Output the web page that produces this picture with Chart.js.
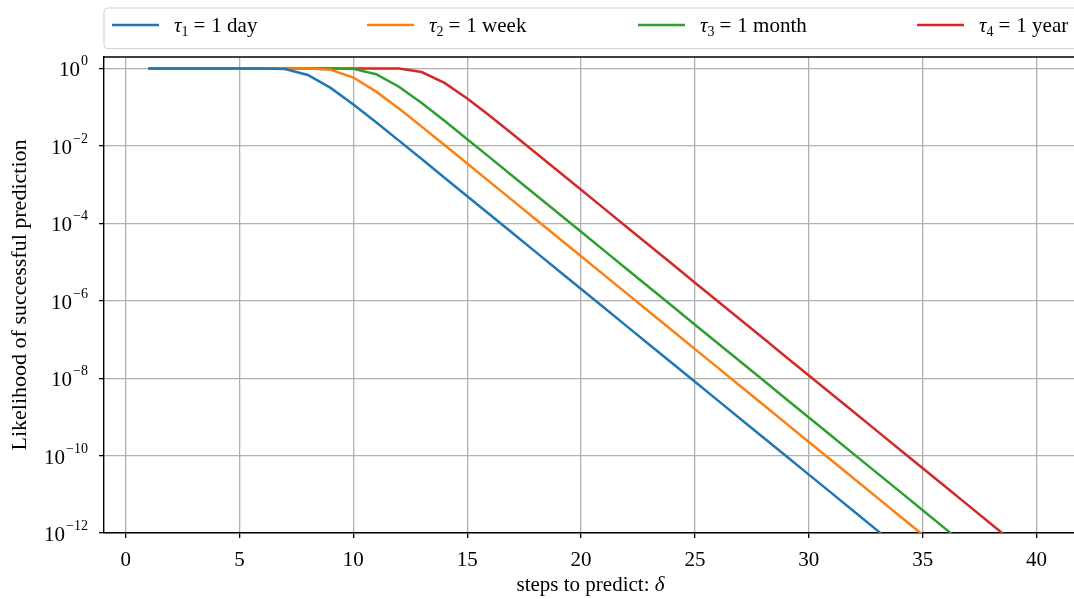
<!DOCTYPE html>
<html>
<head>
<meta charset="utf-8">
<script src="https://cdn.jsdelivr.net/npm/chart.js@4.4.0/dist/chart.umd.min.js"></script>
<style>
    html, body { margin: 0; padding: 0; background: #fff; overflow: hidden; }
    #contenedor { position: relative; width: 1084px; height: 599px; }
</style>
</head>
<body>
<div id="contenedor"><canvas id="grafico-prediccion"></canvas></div>
<script>
// Pasos a predecir (eje x)
const pasos = [1, 2, 3, 4, 5, 6, 7, 8, 9, 10, 11, 12, 13, 14, 15, 16, 17, 18, 19, 20,
               21, 22, 23, 24, 25, 26, 27, 28, 29, 30, 31, 32, 33, 34, 35, 36, 37, 38, 39, 40];

// Probabilidad de prediccion exitosa
const probDia = [1, 1, 1, 1, 1, 1, 0.968, 0.680, 0.315, 0.118, 0.0407, 0.0137,
    4.57e-3, 1.51e-3, 5.02e-4, 1.66e-4, 5.52e-5, 1.83e-5, 6.06e-6, 2.01e-6, 6.66e-7,
    2.21e-7, 7.32e-8, 2.43e-8, 8.04e-9, 2.67e-9, 8.84e-10, 2.93e-10, 9.72e-11,
    3.22e-11, 1.07e-11, 3.54e-12, 1.17e-12, 3.89e-13];
const probSemana = [1, 1, 1, 1, 1, 1, 1, 1, 0.929, 0.584, 0.252, 0.0919, 0.0315,
    0.0105, 3.51e-3, 1.16e-3, 3.86e-4, 1.28e-4, 4.24e-5, 1.41e-5, 4.66e-6, 1.55e-6,
    5.12e-7, 1.70e-7, 5.63e-8, 1.87e-8, 6.19e-9, 2.05e-9, 6.80e-10, 2.25e-10,
    7.47e-11, 2.48e-11, 8.21e-12, 2.72e-12, 9.03e-13];
const probMes = [1, 1, 1, 1, 1, 1, 1, 1, 1, 0.977, 0.712, 0.338, 0.128, 0.0444,
    0.0149, 4.98e-3, 1.65e-3, 5.48e-4, 1.82e-4, 6.03e-5, 2.00e-5, 6.62e-6, 2.20e-6,
    7.28e-7, 2.41e-7, 8.00e-8, 2.65e-8, 8.79e-9, 2.91e-9, 9.66e-10, 3.20e-10,
    1.06e-10, 3.52e-11, 1.17e-11, 3.87e-12, 1.28e-12, 4.25e-13];
const probAnio = [1, 1, 1, 1, 1, 1, 1, 1, 1, 1, 1, 0.993, 0.811, 0.424, 0.167,
    0.0589, 0.0199, 6.65e-3, 2.21e-3, 7.33e-4, 2.43e-4, 8.05e-5, 2.67e-5, 8.85e-6,
    2.93e-6, 9.72e-7, 3.22e-7, 1.07e-7, 3.54e-8, 1.17e-8, 3.90e-9, 1.29e-9,
    4.28e-10, 1.42e-10, 4.70e-11, 1.56e-11, 5.17e-12, 1.71e-12, 5.68e-13];

const etiquetasTau = ['1 day', '1 week', '1 month', '1 year'];
const indicesTau = ['1', '2', '3', '4'];

const ticksX = [0, 5, 10, 15, 20, 25, 30, 35, 40];
const ticksY = [1e-12, 1e-10, 1e-8, 1e-6, 1e-4, 1e-2, 1];

const tituloX = 'steps to predict: ';
const tituloY = 'Likelihood of successful prediction';

const FUENTE = '"Liberation Serif", "Times New Roman", serif';
const TAM = 21;
const TAM_SUP = 14;
const TAM_SUB = 14;

function aPuntos(valores) {
    return valores.map((v, i) => ({ x: pasos[i], y: v }));
}

// dibuja 10^exp alineado a la derecha en xDer
function dibujarPotencia(ctx, exp, xDer, yMedio) {
    const sup = exp === 0 ? '0' : '\u2212' + Math.abs(exp);
    ctx.font = `${TAM}px ${FUENTE}`;
    const anchoBase = ctx.measureText('10').width;
    ctx.font = `${TAM_SUP}px ${FUENTE}`;
    const anchoSup = ctx.measureText(sup).width;
    const x0 = xDer - anchoBase - anchoSup - 1;
    ctx.textAlign = 'left';
    ctx.textBaseline = 'alphabetic';
    ctx.font = `${TAM}px ${FUENTE}`;
    ctx.fillText('10', x0, yMedio + 8);
    ctx.font = `${TAM_SUP}px ${FUENTE}`;
    ctx.fillText(sup, x0 + anchoBase + 1, yMedio - 3);
}

function dibujarLeyenda(chart) {
    const ctx = chart.ctx;
    const area = chart.chartArea;
    const colores = chart.data.datasets.map(d => d.borderColor);
    const inicios = [112, 367, 638, 917];
    const yLinea = 25;

    ctx.save();
    ctx.fillStyle = '#ffffff';
    ctx.strokeStyle = '#d4d4d4';
    ctx.lineWidth = 1.2;
    ctx.beginPath();
    ctx.roundRect(area.left, 8, area.right - area.left, 40.5, 4);
    ctx.fill();
    ctx.stroke();

    etiquetasTau.forEach((txt, i) => {
        const x = inicios[i];
        ctx.strokeStyle = colores[i];
        ctx.lineWidth = 2.5;
        ctx.beginPath();
        ctx.moveTo(x, yLinea);
        ctx.lineTo(x + 47, yLinea);
        ctx.stroke();

        let cx = x + 62;
        const base = 32;
        ctx.fillStyle = '#000';
        ctx.textAlign = 'left';
        ctx.textBaseline = 'alphabetic';
        ctx.font = `italic ${TAM}px ${FUENTE}`;
        ctx.fillText('\u03c4', cx, base);
        cx += ctx.measureText('\u03c4').width;
        ctx.font = `${TAM_SUB}px ${FUENTE}`;
        ctx.fillText(indicesTau[i], cx, base + 4);
        cx += ctx.measureText(indicesTau[i]).width + 5;
        ctx.font = `${TAM}px ${FUENTE}`;
        ctx.fillText('=', cx, base);
        cx += ctx.measureText('=').width + 6;
        ctx.fillText(txt, cx, base);
    });
    ctx.restore();
}

const pluginTextos = {
    id: 'textos',
    afterDraw(chart) {
        const ctx = chart.ctx;
        const area = chart.chartArea;
        const ex = chart.scales.x;
        const ey = chart.scales.y;
        ctx.save();

        // borde superior
        ctx.strokeStyle = '#000';
        ctx.lineWidth = 1.3;
        ctx.beginPath();
        ctx.moveTo(area.left, area.top);
        ctx.lineTo(area.right, area.top);
        ctx.stroke();

        ctx.fillStyle = '#000';
        ctx.font = `${TAM}px ${FUENTE}`;
        ctx.textAlign = 'center';
        ctx.textBaseline = 'alphabetic';
        ticksX.forEach(v => ctx.fillText(String(v), ex.getPixelForValue(v), area.bottom + 33));

        ticksY.forEach(v => {
            dibujarPotencia(ctx, Math.round(Math.log10(v)), area.left - 16, ey.getPixelForValue(v));
        });

        // titulo eje x con delta en cursiva
        ctx.font = `${TAM}px ${FUENTE}`;
        const w1 = ctx.measureText(tituloX).width;
        ctx.font = `italic ${TAM}px ${FUENTE}`;
        const w2 = ctx.measureText('\u03b4').width;
        const xc = (area.left + area.right) / 2 - 2;
        let xt = xc - (w1 + w2) / 2;
        ctx.textAlign = 'left';
        ctx.font = `${TAM}px ${FUENTE}`;
        ctx.fillText(tituloX, xt, 591);
        ctx.font = `italic ${TAM}px ${FUENTE}`;
        ctx.fillText('\u03b4', xt + w1, 591);

        // titulo eje y
        ctx.save();
        ctx.translate(26, (area.top + area.bottom) / 2);
        ctx.rotate(-Math.PI / 2);
        ctx.textAlign = 'center';
        ctx.font = `22px ${FUENTE}`;
        ctx.fillText(tituloY, 0, 0);
        ctx.restore();

        ctx.restore();
        dibujarLeyenda(chart);
    }
};

const ctx = document.getElementById('grafico-prediccion').getContext('2d');

new Chart(ctx, {
    type: 'line',
    data: {
        datasets: [
            { label: 'tau1', data: aPuntos(probDia), borderColor: '#1f77b4' },
            { label: 'tau2', data: aPuntos(probSemana), borderColor: '#ff7f0e' },
            { label: 'tau3', data: aPuntos(probMes), borderColor: '#2ca02c' },
            { label: 'tau4', data: aPuntos(probAnio), borderColor: '#d62728' }
        ].map(d => Object.assign(d, {
            borderWidth: 2.5,
            pointRadius: 0,
            tension: 0,
            fill: false,
            clip: 0
        }))
    },
    options: {
        responsive: true,
        maintainAspectRatio: false,
        animation: false,
        layout: { padding: { top: 57, right: 3, left: 0, bottom: 0 } },
        plugins: {
            legend: { display: false },
            tooltip: { enabled: false }
        },
        scales: {
            x: {
                type: 'linear',
                min: -0.95,
                max: 41.95,
                afterBuildTicks: s => { s.ticks = ticksX.map(v => ({ value: v })); },
                afterFit: s => { s.height = 66; },
                ticks: { display: false },
                grid: { color: '#b0b0b0', lineWidth: 1.3, tickLength: 5, tickColor: '#000', tickWidth: 1.3 },
                border: { display: true, color: '#000', width: 1.4 }
            },
            y: {
                type: 'logarithmic',
                min: 1e-12,
                max: 1.98,
                afterBuildTicks: s => { s.ticks = ticksY.map(v => ({ value: v })); },
                afterFit: s => { s.width = 104; },
                ticks: { display: false },
                grid: { color: '#b0b0b0', lineWidth: 1.3, tickLength: 5, tickColor: '#000', tickWidth: 1.3 },
                border: { display: true, color: '#000', width: 1.4 }
            }
        }
    },
    plugins: [pluginTextos]
});
</script>
</body>
</html>
